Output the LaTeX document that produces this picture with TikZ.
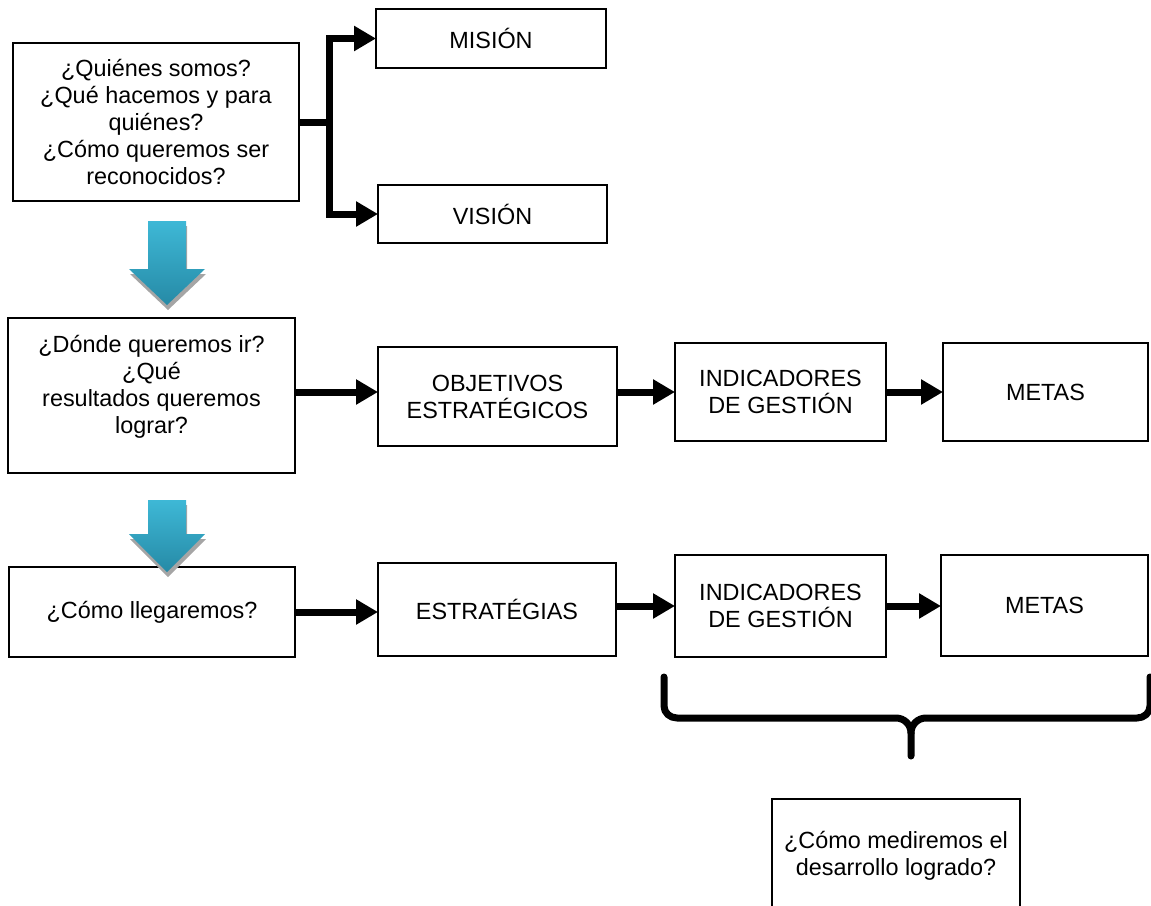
\documentclass[tikz,border=0pt]{standalone}
\usepackage{fontspec}
\setmainfont{Liberation Sans}
\usetikzlibrary{arrows.meta,calc}
\definecolor{btop}{RGB}{62,184,214}
\definecolor{bbot}{RGB}{38,138,166}
\definecolor{shad}{RGB}{165,165,165}
\begin{document}
\begin{tikzpicture}[x=1pt,y=-1pt,
  box/.style={draw, line width=2.5pt, inner sep=0pt, outer sep=0pt, align=center, font=\fontsize{23.4}{27}\selectfont},
  txt/.style={inner sep=0pt, align=center, font=\fontsize{23.4}{27}\selectfont},
  arr/.style={line width=7pt, line join=miter, -{Triangle[length=22pt,width=24pt]}},
  link/.style={line width=7pt},
  brace/.style={line width=7pt, line cap=round, line join=round},
  bluearrow/.style={top color=btop, bottom color=bbot},
]
\useasboundingbox (0,0) rectangle (1151,905);

% row 1
\node[box, minimum width=286pt, minimum height=158pt] (q1) at (156,122)
  {¿Quiénes somos?\\¿Qué hacemos y para\\quiénes?\\¿Cómo queremos ser\\reconocidos?};
\node[box, minimum width=230pt, minimum height=59pt] (mision) at (491,38.5) {MISIÓN};
\node[box, minimum width=229pt, minimum height=58pt] (vision) at (492.5,214) {VISIÓN};

% row 2
\node[box, minimum width=287pt, minimum height=155pt] (q2) at (151.5,395.5) {};
\node[txt] (q2t) at (151.5,387) {¿Dónde queremos ir?\\¿Qué\\resultados queremos\\lograr?};
\node[box, minimum width=239pt, minimum height=99pt] (obj) at (497.5,396.5) {OBJETIVOS\\ESTRATÉGICOS};
\node[box, minimum width=211pt, minimum height=98pt] (ind1) at (780.5,392) {INDICADORES\\DE GESTIÓN};
\node[box, minimum width=205pt, minimum height=98pt] (met1) at (1045.5,392) {METAS};

% row 3
\node[box, minimum width=286pt, minimum height=90pt] (q3) at (152,612) {¿Cómo llegaremos?};
\node[box, minimum width=238pt, minimum height=93pt] (estr) at (497,609.5) {ESTRATÉGIAS};
\node[box, minimum width=211pt, minimum height=102pt] (ind2) at (780.5,606) {INDICADORES\\DE GESTIÓN};
\node[box, minimum width=207pt, minimum height=101pt] (met2) at (1044.5,605.5) {METAS};

% bottom box (cut by page edge)
\node[box, minimum width=248pt, minimum height=114pt] (meas) at (896,856)
  {¿Cómo mediremos el\\desarrollo logrado?};

% fork from first box
\coordinate (fork) at (329,122);
\draw[link] (q1.east) -- (fork);
\draw[arr] (fork) |- (mision.west);
\draw[arr] (fork) |- (vision.west);

% row 2 connectors
\draw[arr] (q2.east |- ind1) -- (obj.west |- ind1);
\draw[arr] (obj.east |- ind1) -- (ind1.west);
\draw[arr] (ind1.east) -- (met1.west |- ind1);

% row 3 connectors
\draw[arr] (q3.east) -- (estr.west |- q3);
\draw[arr] (estr.east |- ind2) -- (ind2.west);
\draw[arr] (ind2.east) -- (met2.west |- ind2);

% blue down arrows
\fill[shad] (149,226) -- (187,226) -- (187,274) -- (206,274) -- (168,310) -- (130,274) -- (149,274) -- cycle;
\shade[bluearrow] (148,221) -- (186,221) -- (186,269) -- (205,269) -- (167,305) -- (129,269) -- (148,269) -- cycle;
\fill[shad] (149,505) -- (187,505) -- (187,539) -- (206,539) -- (168,577) -- (130,539) -- (149,539) -- cycle;
\shade[bluearrow] (148,500) -- (186,500) -- (186,534) -- (205,534) -- (167,572) -- (129,534) -- (148,534) -- cycle;

% brace
\draw[brace] (664,677) -- (664,706) to[out=-90,in=180] (677,718) -- (896,718) to[out=0,in=90] (911,733) -- (911,756);
\draw[brace] (1150,677) -- (1150,706) to[out=-90,in=0] (1137,718) -- (926,718) to[out=180,in=90] (911,733);
\end{tikzpicture}
\end{document}
